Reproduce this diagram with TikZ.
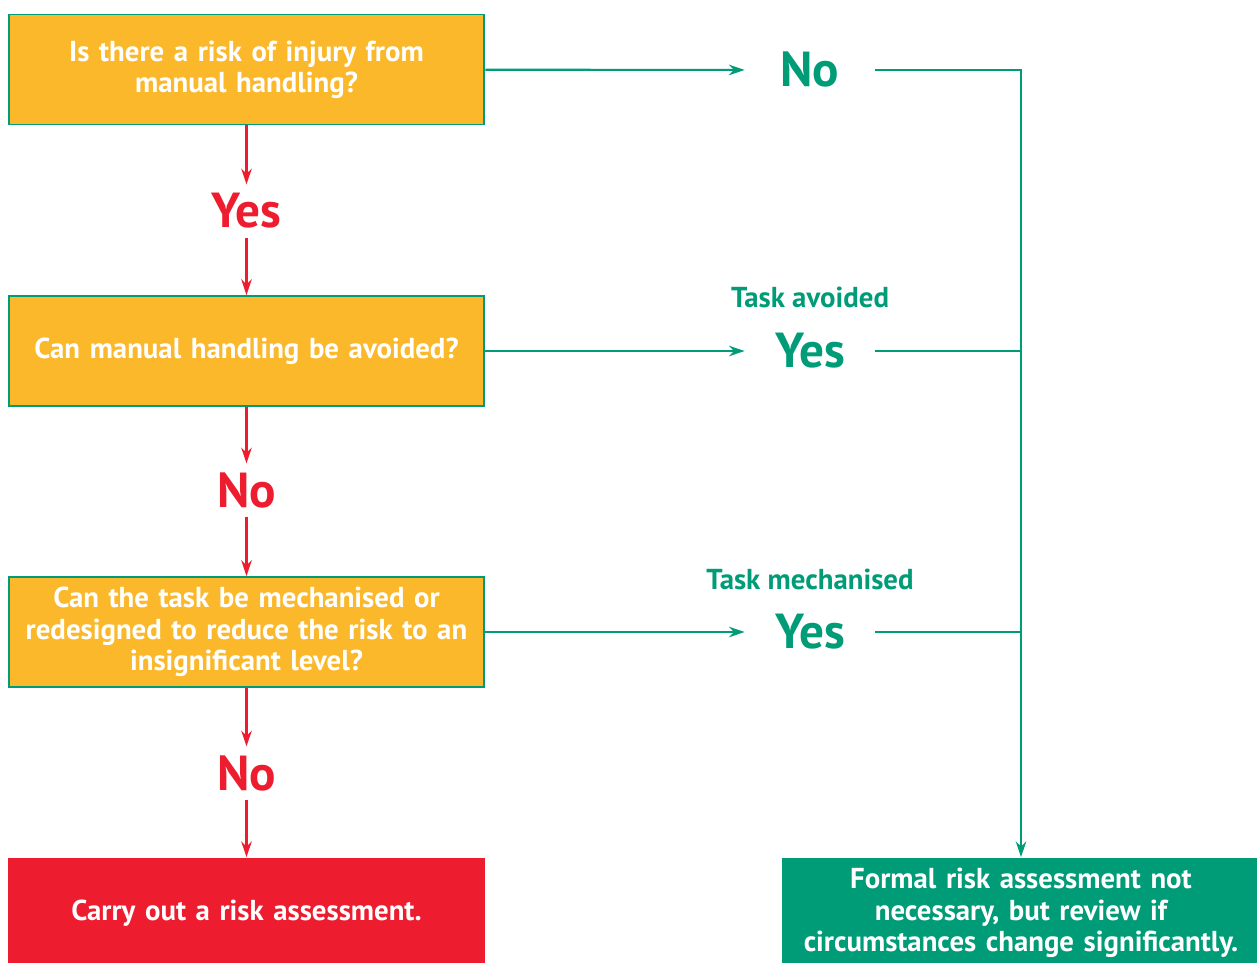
\documentclass[tikz,border=0pt]{standalone}
\usepackage{fontspec}
\setmainfont{PT Sans}
\usetikzlibrary{arrows.meta}
\usetikzlibrary{positioning}

\definecolor{boxorange}{RGB}{251,184,43}
\definecolor{safegreen}{RGB}{0,155,119}
\definecolor{riskred}{RGB}{237,28,46}

\tikzset{
  question/.style={draw=safegreen, line width=1.1pt, fill=boxorange, text=white,
    minimum width=9.52cm, minimum height=2.2cm, text width=9.2cm, align=center,
    font=\bfseries\fontsize{16.4}{17.8}\selectfont},
  outcome/.style={fill=#1, text=white, minimum width=9.56cm, minimum height=2.22cm,
    text width=9.2cm, align=center, inner sep=0pt,
    font=\bfseries\fontsize{16.4}{17.8}\selectfont},
  redword/.style={text=riskred, minimum height=1.05cm, inner sep=0pt,
    font=\bfseries\fontsize{28}{30}\selectfont},
  answer/.style={text=safegreen, minimum width=2.6cm, inner sep=0pt,
    font=\bfseries\fontsize{28}{30}\selectfont},
  note/.style={text=safegreen, inner sep=0pt, font=\bfseries\fontsize{16.4}{18}\selectfont},
  redflow/.style={draw=riskred, line width=1.2pt, -{Stealth[length=9pt,width=6pt]}},
  greenflow/.style={draw=safegreen, line width=1.2pt, -{Stealth[length=9pt,width=6pt]}},
  greenline/.style={draw=safegreen, line width=1.2pt},
}

\begin{document}
\begin{tikzpicture}[x=0.02cm, y=-0.02cm]
  \useasboundingbox (0,0) rectangle (1257,963);

  % questions down the left
  \node[question] (q1) at (246.5,69.5) {Is there a risk of injury from\\manual handling?};
  \node[question] (q2) at (246.5,351) {Can manual handling be avoided?};
  \node[question] (q3) at (246.5,632) {Can the task be mechanised or\\redesigned to reduce the risk to an\\insignificant level?};
  \node[outcome=riskred] (assess) at (246.5,913) {Carry out a risk assessment.};
  \node[outcome=safegreen] (noneed) at (1021,913) {Formal risk assessment not\\necessary, but review if\\circumstances change significantly.};

  % answers between the boxes
  \node[redword] (yes1) at (246.5,211) {Yes};
  \node[redword] (no2) at (246.5,490) {No};
  \node[redword] (no3) at (246.5,773) {No};

  \node[answer] (no1) at (810,70) {No};
  \node[answer] (yes2) at (810,351) {Yes};
  \node[answer] (yes3) at (810,632) {Yes};
  \node[note] (avoided) at (810,297) {Task avoided};
  \node[note] (mech) at (810,579) {Task mechanised};

  \draw[redflow] (q1) -- (yes1);
  \draw[redflow] (yes1) -- (q2);
  \draw[redflow] (q2) -- (no2);
  \draw[redflow] (no2) -- (q3);
  \draw[redflow] (q3) -- (no3);
  \draw[redflow] (no3) -- (assess);

  \draw[greenflow] (q1) -- (no1);
  \draw[greenflow] (q2) -- (yes2);
  \draw[greenflow] (q3) -- (yes3);
  \draw[greenflow] (no1.east) -- (no1.east -| noneed.north) -- (noneed);
  \draw[greenline] (yes2.east) -- (yes2.east -| noneed.north);
  \draw[greenline] (yes3.east) -- (yes3.east -| noneed.north);
\end{tikzpicture}
\end{document}
